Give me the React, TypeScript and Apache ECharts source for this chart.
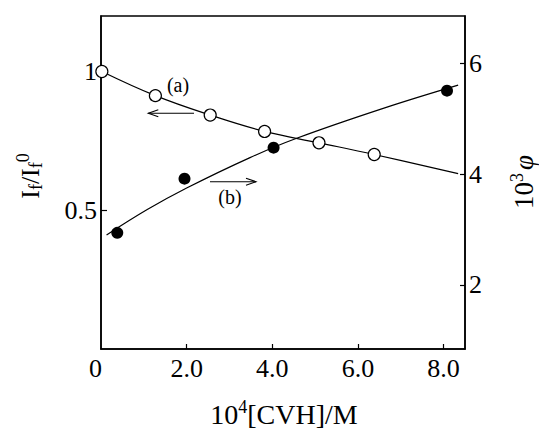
import React, { useEffect, useRef } from "react";
import * as echarts from "echarts";

// (a) open circles, left axis: I_f / I_f^0
const aX = [0.02, 1.27, 2.55, 3.82, 5.09, 6.38];
const aY = [1.0, 0.913, 0.843, 0.784, 0.743, 0.701];
// (a) fitted curve
const aCurveX = [0.02, 1.27, 2.55, 3.82, 5.09, 6.38, 8.34];
const aCurveY = [1.0, 0.913, 0.843, 0.784, 0.743, 0.701, 0.632];
// (b) filled circles, right axis: 10^3 phi
const bX = [0.38, 1.95, 4.03, 8.08];
const bY = [2.94, 3.92, 4.48, 5.51];
// (b) fitted curve
const bCurveX = [0.13, 1.08, 2.0, 3.48, 4.57, 6.59, 8.34];
const bCurveY = [2.9, 3.36, 3.75, 4.3, 4.65, 5.19, 5.61];
// ticks
const xTicks = [0, 2, 4, 6, 8];
const leftTicks = [0.5, 1];
const rightTicks = [2, 4, 6];

const FONT = "Liberation Serif";

const zip = (xs: number[], ys: number[]) => xs.map((x, i) => [x, ys[i]]);

export default function App() {
  const ref = useRef<HTMLDivElement>(null);
  useEffect(() => {
    if (!ref.current) return;
    const chart = echarts.init(ref.current, undefined, { renderer: "svg" });
    const axisLine = { show: true, lineStyle: { color: "#000", width: 1.5 } };
    const txt = (size: number, extra: any = {}) => ({
      fontFamily: FONT,
      fontSize: size,
      fill: "#000",
      ...extra,
    });
    const tickLabel = { color: "#000", fontFamily: FONT, fontSize: 26 };
    chart.setOption({
      animation: false,
      backgroundColor: "#fff",
      textStyle: { fontFamily: FONT, fontSize: 26 },
      grid: {
        left: 101,
        right: 74,
        top: 16,
        bottom: 82,
        show: true,
        borderColor: "#000",
        borderWidth: 1.5,
        backgroundColor: "transparent",
      },
      xAxis: {
        type: "value",
        min: 0,
        max: 8.5,
        axisLine,
        splitLine: { show: false },
        axisTick: {
          show: true,
          inside: true,
          length: 5,
          customValues: [2, 4, 6, 8],
          lineStyle: { color: "#000", width: 1.2 },
        },
        axisLabel: {
          ...tickLabel,
          customValues: xTicks,
          margin: 6,
          formatter: (v: number) => (v === 0 ? "{z|0}" : v.toFixed(1)),
          rich: { z: { ...tickLabel, padding: [0, 11, 0, 0] } },
        },
      },
      yAxis: [
        {
          type: "value",
          position: "left",
          min: 0,
          max: 1.2,
          axisLine,
          splitLine: { show: false },
          axisTick: {
            show: true,
            inside: true,
            length: 6,
            customValues: leftTicks,
            lineStyle: { color: "#000", width: 1.2 },
          },
          axisLabel: {
            ...tickLabel,
            customValues: leftTicks,
            margin: 4,
            formatter: (v: number) => (v === 1 ? "1" : v.toFixed(1)),
          },
        },
        {
          type: "value",
          position: "right",
          min: 0.84,
          max: 6.86,
          axisLine,
          splitLine: { show: false },
          axisTick: {
            show: true,
            inside: true,
            length: 5,
            customValues: rightTicks,
            lineStyle: { color: "#000", width: 1.2 },
          },
          axisLabel: {
            ...tickLabel,
            customValues: rightTicks,
            margin: 4,
            formatter: (v: number) => String(v),
          },
        },
      ],
      series: [
        {
          type: "line",
          yAxisIndex: 0,
          data: zip(aCurveX, aCurveY),
          smooth: 0.4,
          showSymbol: false,
          lineStyle: { color: "#000", width: 1.2 },
          z: 2,
        },
        {
          type: "line",
          yAxisIndex: 1,
          data: zip(bCurveX, bCurveY),
          smooth: 0.4,
          showSymbol: false,
          lineStyle: { color: "#000", width: 1.2 },
          z: 2,
        },
        {
          type: "scatter",
          yAxisIndex: 0,
          data: zip(aX, aY),
          symbol: "circle",
          symbolSize: 12,
          itemStyle: { color: "#fff", borderColor: "#000", borderWidth: 1.2, opacity: 1 },
          z: 3,
        },
        {
          type: "scatter",
          yAxisIndex: 1,
          data: zip(bX, bY),
          symbol: "circle",
          symbolSize: 12,
          itemStyle: { color: "#000", borderColor: "#000", borderWidth: 0, opacity: 1 },
          z: 3,
        },
      ],
      graphic: [
        // annotations
        {
          type: "text",
          x: 178,
          y: 85,
          style: { text: "(a)", ...txt(20), align: "center", verticalAlign: "middle" },
        },
        {
          type: "text",
          x: 230,
          y: 197,
          style: { text: "(b)", ...txt(20), align: "center", verticalAlign: "middle" },
        },
        // arrow left
        { type: "line", shape: { x1: 194, y1: 113.3, x2: 148.3, y2: 113.3 }, style: { stroke: "#000", lineWidth: 1.1 } },
        {
          type: "polyline",
          shape: { points: [[158.3, 109.8], [148.3, 113.3], [158.3, 116.8]] },
          style: { stroke: "#000", lineWidth: 1.1, fill: "none" },
        },
        // arrow right
        { type: "line", shape: { x1: 210, y1: 181.7, x2: 256, y2: 181.7 }, style: { stroke: "#000", lineWidth: 1.1 } },
        {
          type: "polyline",
          shape: { points: [[246, 178.2], [256, 181.7], [246, 185.2]] },
          style: { stroke: "#000", lineWidth: 1.1, fill: "none" },
        },
        // axis titles
        {
          type: "text",
          x: 30,
          y: 176,
          rotation: Math.PI / 2,
          style: {
            text: "I{sub|f}/I{sub|f}{sup|0}",
            ...txt(26),
            align: "center",
            verticalAlign: "middle",
            rich: {
              sub: txt(18, { padding: [12, 0, 0, 0] }),
              sup: txt(18, { padding: [0, 0, 15, 0] }),
            },
          },
        },
        {
          type: "text",
          x: 524,
          y: 182,
          rotation: Math.PI / 2,
          style: {
            text: "10{sup|3}{phi|φ}",
            ...txt(27),
            align: "center",
            verticalAlign: "middle",
            rich: {
              sup: txt(18, { padding: [0, 3, 15, 0] }),
              phi: txt(27, { fontStyle: "italic" }),
            },
          },
        },
        {
          type: "text",
          x: 284,
          y: 414,
          style: {
            text: "10{sup|4}[CVH]/M",
            ...txt(28),
            align: "center",
            verticalAlign: "middle",
            rich: {
              sup: txt(18, { padding: [0, 0, 15, 0] }),
            },
          },
        },
      ],
    });
    return () => chart.dispose();
  }, []);
  return (
    <div
      ref={ref}
      style={{ position: "fixed", left: 0, top: 0, width: 539, height: 431, background: "#fff" }}
    />
  );
}
